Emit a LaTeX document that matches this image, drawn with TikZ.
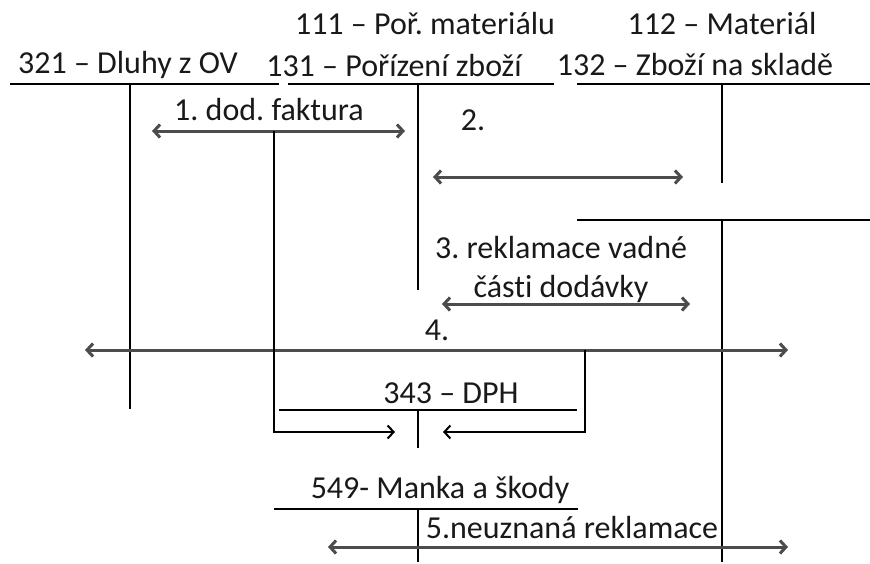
\documentclass[tikz,border=0pt]{standalone}
\usepackage{fontspec}
\setmainfont[Ligatures=NoCommon]{Carlito}
\usetikzlibrary{arrows.meta}
\frenchspacing
\tikzset{
    tline/.style={line width=2pt},
    flow/.style={line width=3pt, black!70, {Straight Barb[length=6pt,width=13pt]}-{Straight Barb[length=6pt,width=13pt]}},
    post/.style={line width=2pt, -{Straight Barb[length=6pt,width=13pt]}},
    lbl/.style={inner sep=0pt, text=black!90, font=\fontsize{32}{39}\selectfont},
}
\begin{document}
\begin{tikzpicture}[x=1pt,y=-1pt]
                            \useasboundingbox (0,0) rectangle (870,563);

                            % account names
                            \node[lbl] (h111) at (425,24) {111 – Poř. materiálu};
                            \node[lbl] (h112) at (722,24) {112 – Materiál};
                            \node[lbl] (h321) at (128,65) {321 – Dluhy z OV};
                            \node[lbl] (h131) at (394,65) {131 – Pořízení zboží};
                            \node[lbl] (h132) at (695,65) {132 – Zboží na skladě};
                            \node[lbl] (h343) at (451,393) {343 – DPH};
                            \node[lbl] (h549) at (440,490) {549- Manka a škody};

                            % T accounts
                            \draw[tline] (10,84) -- (279,84);% 321
                            \draw[tline] (130,84) -- (130,409);
                            \draw[tline] (288,84) -- (554,84);% 131
                            \draw[tline] (418,84) -- (418,290);
                            \draw[tline] (577,84) -- (870,84);% 132
                            \draw[tline] (722,84) -- (722,183);
                            \draw[tline] (577,220) -- (870,220);% 112
                            \draw[tline] (722,220) -- (722,562);
                            \draw[tline] (279,410) -- (577,410);% 343
                            \draw[tline] (418,410) -- (418,448);
                            \draw[tline] (274,509) -- (578,509);% 549
                            \draw[tline] (418,509) -- (418,562);

                            % operations
                            \node[lbl] (op1) at (269,110) {1. dod. faktura};
                            \node[lbl] (op2) at (473,120) {2.};
                            \node[lbl, align=center] (op3) at (561,269) {3. reklamace vadné\\části dodávky};
                            \node[lbl] (op4) at (437,330) {4.};
                            \node[lbl] (op5) at (572,528) {5.neuznaná reklamace};

                            \coordinate (f1a) at (152,131);
                            \coordinate (f1b) at (405,131);
                            \coordinate (f2a) at (433,177);
                            \coordinate (f2b) at (683,177);
                            \coordinate (f3a) at (442,304);
                            \coordinate (f3b) at (690,304);
                            \coordinate (f4a) at (85,350);
                            \coordinate (f4b) at (788,350);
                            \coordinate (f5a) at (328,547);
                            \coordinate (f5b) at (788,547);

                            \draw[flow] (f1a) -- (f1b);
                            \draw[flow] (f2a) -- (f2b);
                            \draw[flow] (f3a) -- (f3b);
                            \draw[flow] (f4a) -- (f4b);
                            \draw[flow] (f5a) -- (f5b);

                            % VAT
                            \coordinate (v1) at (274,131);
                            \coordinate (d1) at (395,432);
                            \coordinate (v2) at (585,350);
                            \coordinate (d2) at (443,432);
                            \draw[post] (v1) |- (d1);
                            \draw[post] (v2) |- (d2);
                        \end{tikzpicture}
\end{document}
